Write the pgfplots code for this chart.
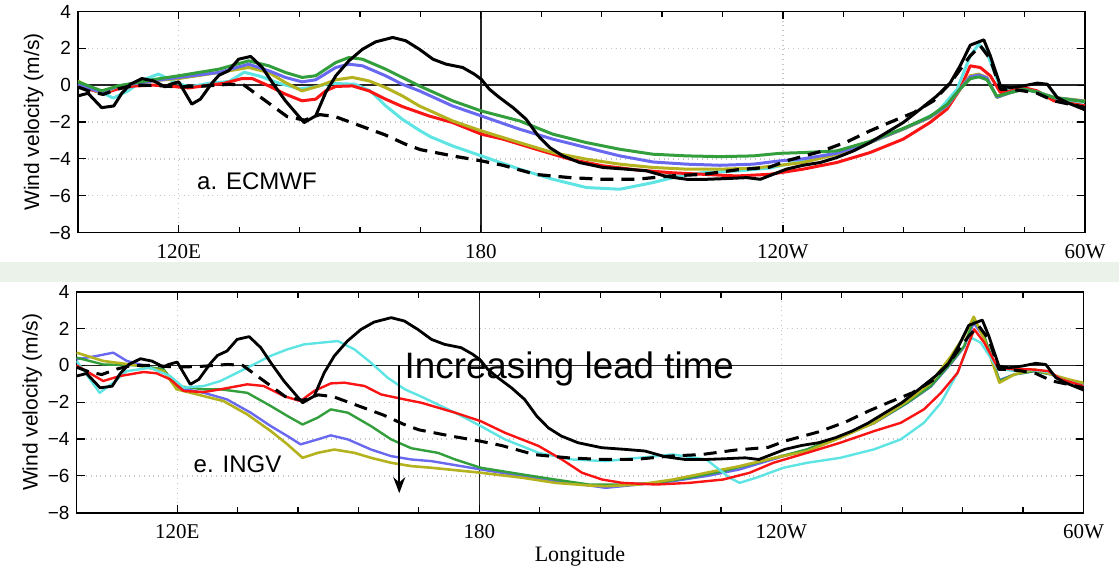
\documentclass[border=0pt]{standalone}
\usepackage{fontspec}
\setmainfont{Liberation Serif}
\setsansfont{Liberation Sans}
\usepackage{pgfplots}
\usepackage{pgfplotstable}
\pgfplotsset{compat=1.18}
\usetikzlibrary{arrows.meta}

\definecolor{cred}{RGB}{250,20,20}
\definecolor{ccyan}{RGB}{95,228,228}
\definecolor{cgreen}{RGB}{50,158,60}
\definecolor{cblue}{RGB}{105,105,240}
\definecolor{colive}{RGB}{180,178,30}
\definecolor{band}{RGB}{234,242,234}

% observations (same in both panels)
\pgfplotstableread{
lon v
100 -0.58
102 -0.44
104.7 -1.22
107.1 -1.13
108.7 -0.44
110.4 0.05
112.7 0.36
115 0.23
117.3 -0.09
118.3 0.05
120 0.18
122.6 -1.03
124.3 -0.76
126.6 0.11
128 0.54
129.9 0.78
131.9 1.41
134.3 1.56
136.6 0.96
138.6 0.14
141.2 -0.85
144.9 -2.03
147.2 -1.67
149.2 -0.40
151.2 0.51
153.8 1.32
156.5 1.95
159.1 2.35
162.5 2.59
165.1 2.41
167.8 1.95
170.5 1.41
173.1 1.14
176.4 0.96
178.7 0.60
180.1 0.32
181.7 -0.22
183.7 -0.67
186.4 -1.22
189 -1.85
191.4 -2.75
193.7 -3.39
196.3 -3.84
199.6 -4.20
204.3 -4.47
208.9 -4.56
212.9 -4.65
216.9 -4.96
220.9 -5.11
224.9 -5.11
228.8 -5.07
232.8 -5.02
235.5 -5.11
237.5 -4.90
240.7 -4.56
244 -4.35
247.4 -4.20
250.7 -3.93
254 -3.57
257.3 -3.12
260.6 -2.57
263.9 -2.03
267.3 -1.30
270.6 -0.58
273.2 0.11
275.2 1.05
277.2 2.17
279.9 2.46
281.2 1.59
283.2 -0.04
285.2 -0.13
287.8 -0.04
290.5 0.11
292.5 0.05
294.5 -0.67
296.4 -0.94
300 -1.34
}\obs

% climatology (dashed)
\pgfplotstableread{
lon v
100 -0.1
102.5 -0.35
105 -0.5
108 -0.2
111 0
115 0
120 -0.1
125 -0.05
130 0.05
133 0
136 -0.6
139 -1.2
141.5 -1.7
145 -1.9
148 -1.6
151 -1.7
154 -2.0
157 -2.3
161 -2.7
165 -3.2
168 -3.5
174.4 -3.84
180.1 -4.11
184.4 -4.35
191 -4.85
197.7 -5.02
204.3 -5.11
210.9 -5.11
217.6 -4.93
224.2 -4.84
230.8 -4.6
237.4 -4.45
240.7 -4.11
247.4 -3.61
252.7 -3.08
257.3 -2.48
261.6 -1.98
266 -1.49
269.9 -0.85
273.2 0.1
277.2 1.59
279.2 2.14
281.2 1.41
283.2 -0.22
285.2 -0.22
287.8 -0.31
290.5 -0.44
293.8 -0.85
300 -1.21
}\clim

% ---- a. ECMWF ----
\pgfplotstableread{
lon v
100 0.0
102 -0.2
105 -0.45
108 -0.2
111 -0.05
115 0.0
118 -0.05
122 -0.15
126 0.0
129 0.1
132.6 0.36
134.6 0.36
137.9 -0.04
141.2 -0.49
144.5 -0.85
147.2 -0.76
149.2 -0.31
151.2 -0.07
154.5 -0.04
157.8 -0.31
161.1 -0.76
164.4 -1.16
169.7 -1.67
174.4 -2.03
180.1 -2.66
184.4 -2.93
191 -3.48
197.7 -4.02
204.3 -4.38
210.9 -4.60
217.6 -4.75
224.2 -4.84
230.8 -4.93
237.4 -4.84
244 -4.56
250.7 -4.20
257.3 -3.66
263.9 -2.93
269.2 -2.03
272.6 -1.30
275.2 -0.22
277.2 1.05
279.2 0.96
281.2 0.51
283.2 -0.40
285.5 -0.30
287.8 -0.13
290.5 -0.31
293.8 -0.85
300 -1.12
}\ecred

\pgfplotstableread{
lon v
100 0.0
104 -0.3
107 -0.7
110 -0.3
113 0.3
116 0.6
119 0.2
122 -0.1
126 0.1
130 0.2
133 0.7
136 0.5
140 0.1
144 -0.2
147 -0.1
150 0.1
155 0.05
158 -0.3
161.1 -1.12
164.4 -1.85
167.8 -2.45
170 -2.8
174.4 -3.30
180.1 -3.84
187.7 -4.56
194.3 -5.11
201 -5.56
207.6 -5.65
214.2 -5.29
219.5 -4.93
224.2 -4.75
230.8 -4.66
237.4 -4.50
244 -4.10
250.7 -3.66
257.3 -3.12
263.9 -2.39
270.6 -1.49
274.6 -0.22
277.2 1.59
278.9 2.23
280.5 1.77
283.2 -0.13
285.2 -0.30
287.8 -0.20
290.5 -0.35
293.8 -0.75
300 -1.10
}\eccyan

\pgfplotstableread{
lon v
100 0.23
104.7 -0.49
108 -0.04
114.7 0.23
120 0.36
128 0.69
133.9 0.96
137.9 0.69
141.2 0.14
144.5 -0.31
147.9 -0.04
151.2 0.29
154.5 0.42
157.8 0.23
161.1 -0.13
164.4 -0.58
167.8 -1.13
174.4 -1.94
180.1 -2.48
187.7 -3.12
194.3 -3.66
201 -4.02
207.6 -4.29
214.2 -4.47
220.9 -4.56
227.5 -4.56
234.1 -4.51
239.4 -4.35
244 -4.20
250.7 -3.75
257.3 -3.12
263.9 -2.39
269.2 -1.76
272.6 -1.12
275.2 -0.22
277.2 0.51
278.9 0.60
280.5 0.42
282.5 -0.67
285.2 -0.40
287.8 -0.22
290.5 -0.37
293.8 -0.67
300 -0.85
}\ecolive

\pgfplotstableread{
lon v
100 0.05
104.7 -0.40
108 -0.05
114.7 0.23
120 0.42
128 0.69
133.9 1.14
137.9 0.78
141.2 0.42
144.5 0.18
147.2 0.29
151.2 0.96
153.8 1.14
156.5 1.05
161.1 0.51
164.4 0.05
167.8 -0.31
174.4 -1.13
180.1 -1.67
187.7 -2.39
194.3 -2.93
201 -3.39
207.6 -3.84
214.2 -4.17
220.9 -4.29
227.5 -4.35
234.1 -4.29
239.4 -4.11
244 -4.00
250.7 -3.70
257.3 -3.10
263.9 -2.37
269.2 -1.74
272.6 -1.10
275.2 -0.20
277.2 0.45
278.9 0.55
280.5 0.40
282.5 -0.65
285.2 -0.40
287.8 -0.22
290.5 -0.37
293.8 -0.67
300 -0.88
}\ecblue

\pgfplotstableread{
lon v
100 0.18
104.7 -0.31
108 -0.04
114.7 0.29
120 0.51
128 0.87
133.9 1.32
137.9 1.05
141.2 0.69
144.5 0.42
147.2 0.51
151.2 1.23
153.8 1.50
156.5 1.41
161.1 0.87
164.4 0.42
167.8 -0.04
174.4 -0.85
180.1 -1.40
187.7 -1.94
194.3 -2.66
201 -3.12
207.6 -3.48
214.2 -3.75
220.9 -3.84
227.5 -3.88
234.1 -3.84
239.4 -3.70
244 -3.66
250.7 -3.57
257.3 -3.05
263.9 -2.35
269.2 -1.70
272.6 -1.05
275.2 -0.20
277.2 0.35
278.9 0.45
280.5 0.30
282.5 -0.60
285.2 -0.40
287.8 -0.22
290.5 -0.37
293.8 -0.67
300 -0.90
}\ecgreen

% ---- e. INGV ----
\pgfplotstableread{
lon v
100 0.0
102.5 -0.40
105.3 -0.85
108.6 -0.58
113.3 -0.36
115.9 -0.43
118.6 -0.76
121.3 -1.39
125.3 -1.45
128.6 -1.30
133.9 -1.03
137.2 -1.12
141.2 -1.67
144.5 -1.94
147.2 -1.39
150.5 -0.98
153.2 -0.94
157.2 -1.12
160.5 -1.58
165.2 -1.85
168.5 -2.03
175.2 -2.57
180.3 -3.03
185.1 -3.66
191.8 -4.38
196.4 -5.11
200.4 -5.83
204.4 -6.20
208.4 -6.38
215.1 -6.47
221.7 -6.38
228.4 -6.20
233.7 -5.83
238.4 -5.29
245.1 -4.75
251.7 -4.20
258.4 -3.57
263.7 -3.12
268.3 -2.39
271.7 -1.49
275 -0.40
277 1.05
278.3 1.96
280.3 1.23
283 -0.13
286.3 -0.22
289.6 -0.22
293 -0.31
295.6 -0.76
300 -1.12
}\inred

\pgfplotstableread{
lon v
100 0.24
102 -0.50
104.6 -1.49
107.3 -0.94
110 -0.31
114.6 -0.13
118.6 -0.58
121.3 -1.21
125.3 -1.12
128.6 -0.85
131.9 -0.40
135.2 0.05
138.5 0.51
141.9 0.87
145.2 1.14
148.5 1.23
151.9 1.32
155.2 0.87
158.5 0.14
161.8 -0.67
165.2 -1.30
168.5 -1.70
175.2 -2.57
180.3 -3.30
185.1 -4.02
191.8 -4.75
198.4 -5.11
205.1 -5.20
211.7 -5.02
218.4 -4.84
225.1 -5.11
229.7 -6.10
231.7 -6.38
235 -6.10
240.4 -5.56
245.1 -5.29
251.7 -5.02
258.4 -4.56
263.7 -4.02
268.3 -3.12
271.7 -2.03
275 -0.40
277.7 1.50
279.6 1.23
283 -0.20
286.3 -0.30
289.6 -0.25
293 -0.35
296 -0.80
300 -1.10
}\incyan

\pgfplotstableread{
lon v
100 0.42
105.3 0.05
112 0
117.3 -0.22
119.9 -1.12
125.3 -1.30
128.6 -1.30
133.9 -1.49
138.6 -2.21
141.9 -2.75
144.9 -3.21
147.9 -2.84
150.5 -2.39
153.9 -2.57
158.5 -3.30
162.5 -4.02
166.5 -4.50
171.8 -4.75
175.2 -5.11
180.3 -5.56
188.5 -5.92
195.1 -6.20
201.8 -6.47
208.4 -6.47
215.1 -6.38
221.7 -6.10
228.4 -5.74
235 -5.29
240.4 -4.90
245.1 -4.56
251.7 -3.84
258.4 -3.12
265 -2.03
269.7 -1.12
273.7 0.14
276.3 1.05
278.2 2.50
280.3 1.59
283.3 -0.85
286.3 -0.49
290.3 -0.31
293.6 -0.49
297 -0.85
300 -1.05
}\ingreen

\pgfplotstableread{
lon v
100 0.33
104 0.51
107.3 0.69
110 0.24
113.9 -0.04
117.3 -0.31
119.9 -1.21
125.3 -1.49
129.9 -1.85
134.6 -2.57
138.6 -3.30
141.9 -3.84
144.5 -4.29
147.9 -4.02
150.5 -3.80
153.9 -4.02
158.5 -4.57
162.5 -4.93
166.5 -5.11
170.5 -5.20
180.3 -5.65
188.5 -6.01
195.1 -6.29
201.8 -6.52
205.1 -6.65
211.7 -6.47
218.4 -6.29
225.1 -6.01
231.7 -5.65
240.4 -4.93
245.1 -4.58
251.7 -3.86
258.4 -3.14
265 -2.05
269.7 -1.15
273.7 0.10
276.3 1.00
278.2 2.30
280.3 1.50
283.3 -0.80
286.3 -0.49
290.3 -0.31
293.6 -0.49
297 -0.85
300 -1.05
}\inblue

\pgfplotstableread{
lon v
100 0.69
105.3 0.24
112 0
117.3 -0.31
119.9 -1.30
125.3 -1.67
129.2 -1.94
133.9 -2.66
138.6 -3.57
141.9 -4.29
144.9 -5.02
147.9 -4.75
151.2 -4.57
155.2 -4.75
158.5 -5.02
162.5 -5.29
166.5 -5.47
170.5 -5.56
180.3 -5.83
188.5 -6.10
195.1 -6.38
201.8 -6.52
205.1 -6.56
211.7 -6.47
218.4 -6.20
225.1 -5.83
231.7 -5.47
239 -5.00
245.1 -4.66
251.7 -3.93
258.4 -3.12
265 -1.94
269.7 -0.94
273.7 0.51
276.3 1.59
278.2 2.64
280.3 1.41
283.3 -0.94
286.3 -0.49
290.3 -0.22
293.6 -0.49
297 -0.76
300 -0.95
}\inolive

\pgfplotsset{
  panel/.style={
    scale only axis,
    width=503.5pt, height=110.5pt,
    xmin=100, xmax=300, ymin=-8, ymax=4,
    xtick={120,180,240,300},
    xticklabels={120E,180,120W,60W},
    minor x tick num=4,
    ytick={-8,-6,-4,-2,0,2,4},
    yticklabels={−8,−6,−4,−2,0,2,4},
    tick align=inside,
    major tick length=4pt, minor tick length=3pt,
    tick style={black, line width=0.6pt},
    axis line style={line width=0.9pt},
    xmajorgrids, ymajorgrids,
    grid style={gray!45, dotted, line width=0.7pt},
    extra x ticks={180}, extra x tick labels={},
    extra y ticks={0}, extra y tick labels={},
    extra tick style={grid=major, major grid style={solid, black!85, line width=0.7pt}},
    xticklabel style={font=\rmfamily\fontsize{10.5}{12}\selectfont, yshift=-2.5pt},
    yticklabel style={font=\sffamily\fontsize{9.5}{11}\selectfont},
    ylabel={Wind velocity (m/s)},
    ylabel style={font=\sffamily\fontsize{10.5}{12}\selectfont, yshift=-4pt},
    every axis plot/.append style={line join=round},
  },
}

\begin{document}
\begin{tikzpicture}
\useasboundingbox (0,0) rectangle (559.5pt,285pt);
\fill[band] (0,144pt) rectangle (559.5pt,154pt);

\begin{axis}[panel, at={(39pt,168.75pt)}, anchor=south west]
\addplot[ccyan, line width=1.5pt] table[x=lon,y=v] {\eccyan};
\addplot[cred, line width=1.5pt] table[x=lon,y=v] {\ecred};
\addplot[colive, line width=1.5pt] table[x=lon,y=v] {\ecolive};
\addplot[cblue, line width=1.5pt] table[x=lon,y=v] {\ecblue};
\addplot[cgreen, line width=1.5pt] table[x=lon,y=v] {\ecgreen};
\addplot[black, line width=1.6pt, dash pattern=on 6.5pt off 4pt] table[x=lon,y=v] {\clim};
\addplot[black, line width=1.5pt] table[x=lon,y=v] {\obs};
\node[anchor=base west, inner sep=0pt, font=\sffamily\fontsize{12}{14}\selectfont] at (axis cs:123.6,-5.65) {a. ECMWF};
\end{axis}

\begin{axis}[panel, at={(38.25pt,28.65pt)}, anchor=south west,
  xlabel={Longitude}, xlabel style={font=\rmfamily\fontsize{11}{13}\selectfont, yshift=3.5pt}]
\addplot[cblue, line width=1.2pt] table[x=lon,y=v] {\inblue};
\addplot[cgreen, line width=1.2pt] table[x=lon,y=v] {\ingreen};
\addplot[colive, line width=1.3pt] table[x=lon,y=v] {\inolive};
\addplot[ccyan, line width=1.2pt] table[x=lon,y=v] {\incyan};
\addplot[cred, line width=1.2pt] table[x=lon,y=v] {\inred};
\addplot[black, line width=1.5pt, dash pattern=on 6.5pt off 4pt] table[x=lon,y=v] {\clim};
\addplot[black, line width=1.4pt] table[x=lon,y=v] {\obs};
\node[anchor=base west, inner sep=0pt, font=\sffamily\fontsize{12}{14}\selectfont] at (axis cs:123.2,-5.84) {e. INGV};
\draw[black, line width=0.9pt, -{Stealth[length=8pt,width=6pt]}] (axis cs:164.1,0) -- (axis cs:164.1,-6.94);
\node[anchor=base west, inner sep=0pt, font=\sffamily\fontsize{18.4}{20}\selectfont] at (axis cs:165.1,-0.74) {Increasing lead time};
\end{axis}
\end{tikzpicture}
\end{document}
